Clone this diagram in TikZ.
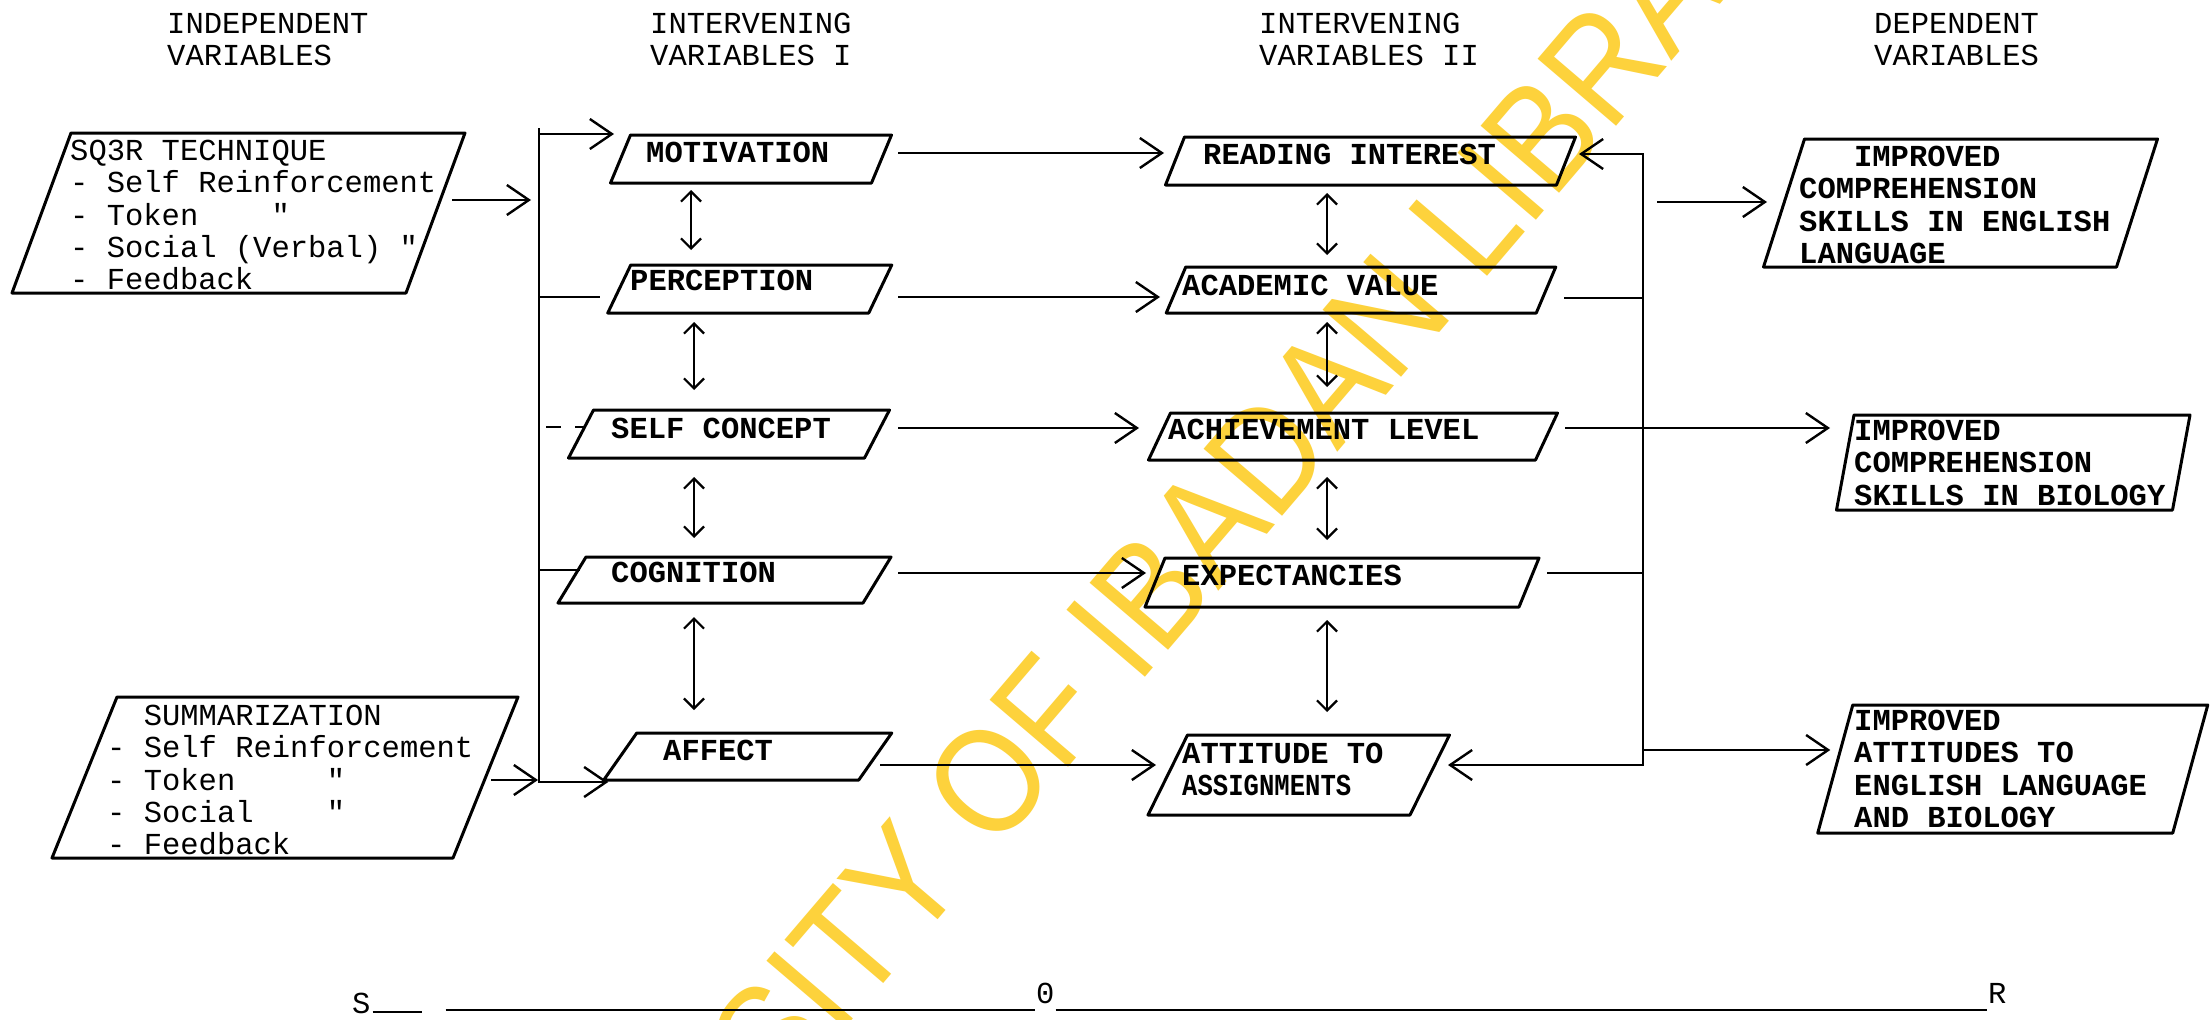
\documentclass[tikz,border=0pt]{standalone}
\usepackage{fontspec}
\usetikzlibrary{arrows.meta,calc}
\newfontfamily\tyf{Liberation Mono}
\newfontfamily\wmf[FakeStretch=0.88]{Liberation Sans}
\definecolor{wm}{RGB}{253,210,60}
\begin{document}
\begin{tikzpicture}[x=1pt,y=-1pt,
  boxline/.style={line width=3pt, line join=round},
  conn/.style={line width=2.4pt},
  arr/.style={conn, -{Straight Barb[length=22pt,width=30pt]}},
  barr/.style={conn, {Straight Barb[length=22pt,width=30pt]}-{Straight Barb[length=22pt,width=30pt]}},
  darr/.style={line width=2.2pt, {Straight Barb[length=10pt,width=20pt]}-{Straight Barb[length=10pt,width=20pt]}},
  pb/.style={inner sep=0pt, outer sep=0pt},
  txt/.style={inner sep=0pt, font=\tyf\fontsize{30.5}{32.3}\selectfont, anchor=base west},
  btxt/.style={txt, font=\tyf\bfseries\fontsize{30.5}{32.3}\selectfont},
  mtxt/.style={txt, anchor=north west, align=left},
  mbtxt/.style={btxt, anchor=north west, align=left}]
\fill[white] (0,0) rectangle (2212,1020);
\useasboundingbox (0,0) rectangle (2212,1020);
% watermark
\begin{scope}
\clip (0,0) rectangle (2212,1020);
\node[rotate=49.5, inner sep=0pt, text=wm, font=\wmf\fontsize{150}{150}\selectfont] (wmk) at (1112,637) {UNIVERSITY OF IBADAN LIBRARY};
\end{scope}
% headers
\node[mtxt] (h1) at (167,13) {INDEPENDENT\\VARIABLES};
\node[mtxt] (h2) at (650,13) {INTERVENING\\VARIABLES I};
\node[mtxt] (h3) at (1259,13) {INTERVENING\\VARIABLES II};
\node[mtxt] (h4) at (1874,13) {DEPENDENT\\VARIABLES};
% boxes
\node[pb, minimum width=394pt, minimum height=160pt] (sq) at (238.5,213) {};
\node[pb, minimum width=401pt, minimum height=161pt] (sum) at (285,777.5) {};
\node[pb, minimum width=261pt, minimum height=48pt] (mot) at (751,159) {};
\node[pb, minimum width=261pt, minimum height=48pt] (per) at (749.75,289) {};
\node[pb, minimum width=296pt, minimum height=48pt] (sc) at (729,434) {};
\node[pb, minimum width=305pt, minimum height=46pt] (cog) at (724.5,580) {};
\node[pb, minimum width=255pt, minimum height=47pt] (aff) at (747.75,756.5) {};
\node[pb, minimum width=391pt, minimum height=48pt] (ri) at (1370.5,161) {};
\node[pb, minimum width=370pt, minimum height=46pt] (av) at (1361,290) {};
\node[pb, minimum width=387pt, minimum height=47pt] (al) at (1353,436.5) {};
\node[pb, minimum width=374pt, minimum height=49pt] (ex) at (1342,582.5) {};
\node[pb, minimum width=262pt, minimum height=80pt] (at) at (1298.75,775) {};
\node[pb, minimum width=353pt, minimum height=128pt] (eng) at (1960.5,203) {};
\node[pb, minimum width=336pt, minimum height=95pt] (bio) at (2013.25,462.5) {};
\node[pb, minimum width=355pt, minimum height=128pt] (att2) at (2012.75,769) {};
\foreach \n/\s in {sq/59,sum/65,mot/20,per/23,sc/25,cog/28,aff/33,ri/19,av/19.5,al/22,ex/20,at/39.5,eng/41,bio/17.5,att2/35}
  \draw[boxline] ([xshift=\s/2]\n.north west) -- ([xshift=\s/2]\n.north east) -- ([xshift=-\s/2]\n.south east) -- ([xshift=-\s/2]\n.south west) -- cycle;
% box texts
\node[mtxt] (sqT) at (70,140) {SQ3R TECHNIQUE\\- Self Reinforcement\\- Token~~~~"\\- Social (Verbal) "\\- Feedback};
\node[mtxt] (sumT) at (107,705) {~~SUMMARIZATION\\- Self Reinforcement\\- Token~~~~~"\\- Social~~~~"\\- Feedback};
\node[btxt] (motT) at (646,162) {MOTIVATION};
\node[btxt] (perT) at (630,290) {PERCEPTION};
\node[btxt] (scT) at (611,438) {SELF CONCEPT};
\node[btxt] (cogT) at (611,582) {COGNITION};
\node[btxt] (affT) at (663,760) {AFFECT};
\node[btxt] (riT) at (1203,164) {READING INTEREST};
\node[btxt] (avT) at (1182,295) {ACADEMIC VALUE};
\node[btxt] (alT) at (1168,439) {ACHIEVEMENT LEVEL};
\node[btxt] (exT) at (1182,585) {EXPECTANCIES};
\node[mbtxt] (atT) at (1182,743) {ATTITUDE TO\\{\addfontfeature{FakeStretch=0.84}ASSIGNMENTS}};
\node[mbtxt] (engT) at (1799,146) {~~~IMPROVED\\COMPREHENSION\\SKILLS IN ENGLISH\\LANGUAGE};
\node[mbtxt] (bioT) at (1854,420) {IMPROVED\\COMPREHENSION\\SKILLS IN BIOLOGY};
\node[mbtxt] (att2T) at (1854,710) {IMPROVED\\ATTITUDES TO\\ENGLISH LANGUAGE\\AND BIOLOGY};
% buses
\coordinate (bLt) at (539,128);
\coordinate (bLb) at (539,782);
\coordinate (bRt) at (1643,154);
\coordinate (bRb) at (1643,765);
% left side
\draw[arr] (bLt) -- (bLb) -- ($(aff.south west)+(-12,2)$);
\draw[arr] ($(sq.east)+(16.5,-13)$) -- ($(bLt)+(-8,72)$);
\draw[arr] ($(sum.east)+(5.5,2.5)$) -- ($(bLb)+(-1,-2)$);
\draw[arr] ($(bLt)+(0,6)$) -- ($(mot.west)+(-6.5,-25)$);
\draw[conn] ($(bLt)+(0,169)$) -- ($(per.west)+(-19,8)$);
\draw[conn, dash pattern=on 15pt off 14pt] ($(bLt)+(7,299)$) -- ($(sc.west)+(5,-7)$);
\draw[conn] ($(bLt)+(0,442)$) -- ($(cog.west)+(8,-10)$);
% I -> II
\draw[arr] ($(mot.east)+(16.5,-6)$) -- ($(ri.west)+(-11,-8)$);
\draw[arr] ($(per.east)+(17.75,8)$) -- ($(av.west)+(-16,7)$);
\draw[arr] ($(sc.east)+(21,-6)$) -- ($(al.west)+(-20.5,-8.5)$);
\draw[arr] ($(cog.east)+(21,-7)$) -- ($(ex.west)+(-9,-9.5)$);
\draw[arr] ($(aff.east)+(4.75,8.5)$) -- ($(at.west)+(-11.75,-10)$);
% right side
\draw[barr] ($(ri.east)+(13,-7)$) -- (bRt) -- (bRb) -- ($(at.east)+(18.25,-10)$);
\draw[conn] ($(av.east)+(18,8)$) -- ($(bRt)+(0,144)$);
\draw[conn] ($(ex.east)+(18,-9.5)$) -- ($(bRt)+(0,419)$);
\draw[arr] ($(al.east)+(18.5,-8.5)$) -- ($(bio.west)+(-15.25,-34.5)$);
\draw[arr] ($(bRt)+(14,48)$) -- ($(eng.west)+(-17,-1)$);
\draw[arr] ($(bRb)+(0,-15)$) -- ($(att2.west)+(-5,-19)$);
% double arrows
\draw[darr] ($(mot.south)+(-60,7)$) -- ($(per.north)+(-58.75,-15)$);
\draw[darr] ($(per.south)+(-55.75,9)$) -- ($(sc.north)+(-35,-20)$);
\draw[darr] ($(sc.south)+(-35,19)$) -- ($(cog.north)+(-30.5,-19)$);
\draw[darr] ($(cog.south)+(-30.5,14)$) -- ($(aff.north)+(-53.75,-23)$);
\draw[darr] ($(ri.south)+(-43.5,8)$) -- ($(av.north)+(-34,-12)$);
\draw[darr] ($(av.south)+(-34,9)$) -- ($(al.north)+(-26,-26)$);
\draw[darr] ($(al.south)+(-26,17)$) -- ($(ex.north)+(-15,-18)$);
\draw[darr] ($(ex.south)+(-15,13)$) -- ($(at.north)+(28.25,-23)$);
% S - O - R
\node[txt] (S) at (352,1013) {S};
\node[txt] (O) at (1036,1003) {0};
\node[txt] (R) at (1988,1003) {R};
\draw[line width=1.6pt] ($(S.base east)+(2,-1)$) -- ($(S.base east)+(51,-1)$);
\draw[conn] ($(S.base east)+(75,-3)$) -- ($(O.base west)+(-1,7)$);
\draw[conn] ($(O.base east)+(1,7)$) -- ($(R.base west)+(-1,7)$);
\end{tikzpicture}
\end{document}
